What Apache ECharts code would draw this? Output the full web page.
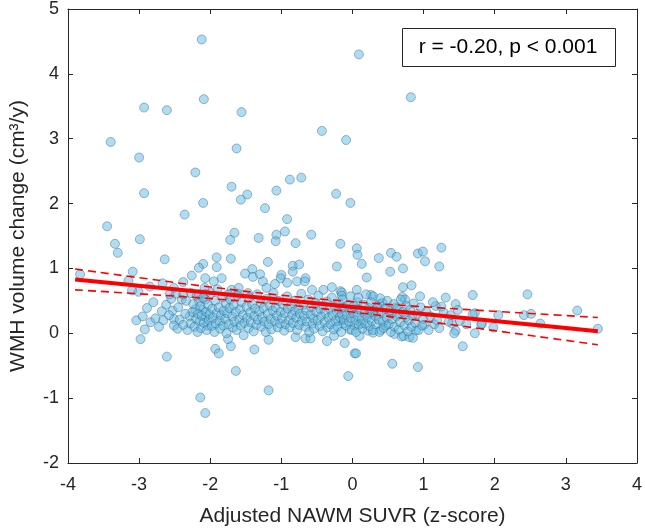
<!DOCTYPE html>
<html><head><meta charset="utf-8">
<script src="https://cdn.jsdelivr.net/npm/echarts@6/dist/echarts.min.js"></script>
<style>html,body{margin:0;padding:0;background:#fff}#c{width:645px;height:532px}</style>
</head><body><div id="c"></div>
<script>
const xTicks = [-4,-3,-2,-1,0,1,2,3,4];
const yTicks = [-2,-1,0,1,2,3,4,5];
const xTitle = 'Adjusted NAWM SUVR (z-score)';
const yTitle = 'WMH volume change (cm³/y)';
const statText = 'r = -0.20, p < 0.001';

// scatter points [z-score, change]
const outliers = [
[-2.12,4.53],[-2.93,3.48],[-2.61,3.44],[-2.09,3.61],[-1.56,3.41],[-3.40,2.95],[-3.0,2.71],[-1.63,2.85],[-2.21,2.48],
[0.09,4.30],[0.82,3.64],[-0.43,3.12],[-0.09,2.98],[-0.88,2.37],[-0.72,2.40],
[-2.93,2.16],[-2.10,2.01],[-2.36,1.83],[-3.45,1.65],[-3.34,1.38],[-2.99,1.45],[-3.30,1.24],[-2.64,1.14],[-3.09,0.95],[-3.83,0.91],
[-2.10,1.07],[-2.16,1.01],[-2.26,0.89],[-3.15,0.81],[-2.85,0.72],[-3.01,0.64],[-3.10,0.66],[-2.38,0.79],[-2.51,0.70],[-2.67,0.77],
[-1.70,2.26],[-1.48,2.14],[-1.57,2.06],[-1.07,2.20],[-0.23,2.15],[-1.23,1.93],[-0.92,1.76],[-1.66,1.55],[-1.72,1.44],[-0.95,1.57],
[-1.07,1.52],[-1.08,1.42],[-0.58,1.52],[-1.32,1.47],[-0.80,1.39],[-0.17,1.38],
[-1.91,1.17],[-1.71,1.15],[-1.91,1.02],[-1.19,1.10],[-0.84,1.04],[-0.75,1.06],[-0.84,0.95],[-0.22,1.03],[-1.41,0.99],[-1.51,0.92],
[-1.40,0.87],[-1.30,0.91],[-1.84,0.85],[-1.95,0.80],[-2.07,0.85],[-1.0,0.90],[-1.01,0.85],[-1.09,0.76],[-0.92,0.78],[-0.78,0.80],
[-0.66,0.85],[-0.67,0.80],[-1.26,0.80],[-1.21,0.70],[-0.57,0.67],[-0.41,0.67],[-0.29,0.71],[-0.17,0.65],[-1.70,0.67],[-1.60,0.70],
[-1.75,0.60],[-1.61,0.61],[-1.47,0.62],
[-0.03,2.01],[0.06,1.31],[0.07,1.21],[0.13,1.07],[0.37,1.16],[0.54,1.24],[0.62,1.18],[0.92,1.23],[0.99,1.26],[1.25,1.32],
[1.02,1.11],[1.22,1.03],[0.71,1.0],[0.53,0.95],[0.20,0.86],[0.71,0.71],[0.83,0.74],[0.06,0.67],[-0.15,0.63],[-0.15,0.58],
[0.26,0.59],[0.29,0.57],[0.95,0.57],[0.70,0.56],[1.69,0.59],[2.46,0.60],
[3.16,0.35],[1.72,0.31],[2.05,0.28],[2.41,0.28],[2.51,0.30],[2.64,0.15],[1.82,0.15],[1.98,0.09],[1.72,0.0],[3.45,0.07],
[0.74,0.52],[1.17,0.42],[1.25,0.41],[1.45,0.45],[0.07,0.48],[0.38,0.45],[0.42,0.47],[0.61,0.40],[-0.17,0.38],[-0.04,0.35],
[0.06,0.37],[0.24,0.30],[0.31,0.35],[0.36,0.30],[0.55,0.30],[0.66,0.29],[0.75,0.25],[0.84,0.27],[0.99,0.22],[1.15,0.14],
[1.40,0.15],[1.51,0.19],[1.60,0.14],[1.69,0.29],[1.81,0.14],[1.45,0.04],[1.43,0.0],[1.55,-0.20],
[-0.20,0.19],[-0.13,0.15],[-0.04,0.06],[0.03,0.12],[0.12,0.15],[0.22,0.04],[0.29,0.01],[0.40,0.05],[0.47,0.12],[0.10,-0.04],
[0.59,-0.01],[0.69,-0.05],[0.72,-0.04],[0.80,-0.06],[0.89,0.04],[0.85,-0.07],[-0.11,-0.15],[0.03,-0.31],[0.05,-0.31],[0.56,-0.47],
[0.92,-0.52],[-0.06,-0.66],[1.01,0.13],
[-1.93,-0.24],[-1.88,-0.31],[-1.71,-0.20],[-1.75,-0.09],[-1.38,-0.25],[-1.18,-0.10],[-1.64,-0.58],[-1.18,-0.88],[-2.14,-0.99],[-2.07,-1.23],
[-0.80,-0.06],[-0.66,-0.08],[-0.59,-0.08],[-0.36,-0.12],[-0.26,-0.04],
[-2.98,-0.09],[-2.61,-0.36],
[-3.04,0.20],[-2.95,0.26],[-2.89,0.39],[-2.84,0.17],[-2.77,0.23],[-2.66,0.20],[-2.68,0.34],[-2.53,0.35],[-2.51,0.22],[-2.51,0.12],
[-2.46,0.07],[-2.43,0.21],[-2.55,0.53],[-2.40,0.52],[-2.29,0.26],[-2.21,0.37],[-2.20,0.22],[-2.11,0.36],[-2.07,0.25],[-2.04,0.12],
[-2.34,0.50],[-2.16,0.50],[-2.07,0.52],[-2.57,0.60],[-2.48,0.61],[-2.38,0.60],[-2.27,0.62],[-2.16,0.60],[-2.07,0.61]
];
const band = [
[-2.32,0.05],[-2.28,0.15],[-2.25,0.33],[-2.24,0.45],[-2.22,0.10],[-2.19,0.58],[-2.18,0.02],
[-2.17,0.30],[-2.15,0.18],[-2.14,0.42],[-2.13,0.08],[-2.12,0.27],[-2.10,0.55],[-2.09,0.16],[-2.08,0.70],
[-2.06,0.33],[-2.05,0.05],[-2.03,0.44],[-2.02,0.20],[-2.01,0.29],[-1.99,0.62],[-1.98,0.11],
[-1.97,0.38],[-1.96,0.24],[-1.94,0.02],[-1.93,0.50],[-1.92,0.15],[-1.91,0.31],[-1.90,0.68],
[-1.88,0.40],[-1.87,0.19],[-1.86,0.07],[-1.85,0.28],[-1.83,0.55],[-1.82,0.12],[-1.81,0.35],
[-1.79,0.22],[-1.78,0.46],[-1.77,0.00],[-1.76,0.31],[-1.74,0.14],[-1.73,0.39],[-1.72,0.52],
[-1.69,0.26],[-1.68,0.09],[-1.67,0.43],[-1.66,0.18],[-1.64,0.33],[-1.63,0.05],[-1.62,0.58],
[-1.59,0.21],[-1.58,0.37],[-1.57,0.12],[-1.56,0.48],[-1.54,0.28],[-1.53,-0.03],[-1.52,0.16],
[-1.49,0.41],[-1.48,0.24],[-1.46,0.08],[-1.45,0.55],[-1.44,0.32],[-1.43,0.17],[-1.41,0.45],
[-1.39,0.03],[-1.38,0.27],[-1.37,0.38],[-1.35,0.13],[-1.34,0.60],[-1.33,0.21],[-1.31,0.34],
[-1.29,0.47],[-1.28,0.10],[-1.27,0.25],[-1.25,0.39],[-1.24,0.18],[-1.22,0.02],[-1.21,0.53],
[-1.19,0.30],[-1.18,0.14],[-1.16,0.43],[-1.15,0.22],[-1.14,0.06],[-1.12,0.35],[-1.11,0.62],
[-1.09,0.19],[-1.08,0.40],[-1.06,0.27],[-1.05,0.09],[-1.04,0.50],[-1.02,0.15],[-1.01,0.33],
[-0.99,0.23],[-0.98,0.45],[-0.96,0.04],[-0.95,0.31],[-0.94,0.14],[-0.92,0.57],[-0.91,0.38],
[-0.89,0.20],[-0.88,0.09],[-0.86,0.42],[-0.85,0.28],[-0.84,0.16],[-0.82,0.50],[-0.81,0.34],
[-0.79,0.24],[-0.78,0.05],[-0.76,0.39],[-0.75,0.13],[-0.74,0.30],[-0.72,0.61],[-0.71,0.19],
[-0.69,0.44],[-0.68,0.27],[-0.66,0.10],[-0.65,0.35],[-0.64,0.18],[-0.62,0.52],[-0.61,0.02],
[-0.59,0.29],[-0.58,0.40],[-0.56,0.15],[-0.55,0.23],[-0.54,0.07],[-0.52,0.47],[-0.51,0.33],
[-0.49,0.20],[-0.48,0.58],[-0.46,0.11],[-0.45,0.37],[-0.44,0.26],[-0.42,0.03],[-0.41,0.43],
[-0.39,0.17],[-0.38,0.31],[-0.36,0.49],[-0.35,0.09],[-0.34,0.24],[-0.32,0.38],[-0.31,0.14],
[-0.29,0.55],[-0.28,0.28],[-0.26,0.06],[-0.25,0.41],[-0.24,0.19],[-0.22,0.33],[-0.21,0.10],
[-0.19,0.46],[-0.18,0.25],[-0.16,0.02],[-0.15,0.30],[-0.14,0.52],[-0.12,0.21],[-0.11,0.40],
[-0.09,0.12],[-0.08,0.28],[-0.06,0.44],[-0.05,0.18],[-0.03,0.57],[-0.02,0.24],[-0.01,0.05],
[0.01,0.31],[0.02,0.42],[0.04,0.20],[0.05,0.02],[0.07,0.27],[0.08,0.55],[0.09,0.13],
[0.11,0.36],[0.13,0.22],[0.14,0.07],[0.16,0.44],[0.17,0.30],[0.18,0.15],[0.19,0.60],
[0.21,0.25],[0.23,0.39],[0.24,0.11],[0.26,0.48],[0.27,0.19],[0.28,0.33],[0.29,0.05],
[0.32,0.27],[0.33,0.14],[0.35,0.41],[0.37,0.21],[0.38,0.02],[0.39,0.54],
[0.41,0.32],[0.43,0.18],[0.44,0.08],[0.46,0.38],[0.48,0.24],[0.49,0.50],
[0.51,0.14],[0.52,0.35],[0.54,0.02],[0.56,0.22],[0.58,0.45],[0.59,0.10],
[0.62,0.26],[0.63,0.38],[0.65,0.06],[0.67,0.17],[0.68,0.52],
[0.71,0.33],[0.73,0.12],[0.76,0.42],[0.78,0.03],[0.79,0.20],
[0.81,0.36],[0.83,0.10],[0.86,0.46],[0.88,0.16],
[0.91,0.30],[0.93,0.05],[0.96,0.40],[0.98,0.12],
[1.04,0.33],[1.07,0.05],[1.10,0.26],[1.13,0.48],[1.19,0.20],[1.22,0.08],[1.28,0.32],[1.31,0.55],[1.35,0.18],[1.38,0.28],[1.48,0.36],
[-2.92,0.06],[-2.80,0.48],[-2.72,0.10],[-2.62,0.44],[-2.58,0.28],[-2.45,0.40],[-2.38,0.13],[-2.35,0.30]
];
// regression line and 95% CI
const fitX  = [-3.9, -3, -2, -1, 0, 1, 2, 3, 3.45];
const fitY  = [0.830, 0.733, 0.624, 0.516, 0.407, 0.299, 0.190, 0.082, 0.033];
const ciUp  = [0.990, 0.857, 0.714, 0.587, 0.487, 0.409, 0.339, 0.273, 0.243];
const ciLo  = [0.670, 0.609, 0.534, 0.445, 0.327, 0.189, 0.041, -0.109, -0.177];

const FONT = '"Liberation Sans", Arial, Helvetica, sans-serif';
const AX = '#262626';
const pts = outliers.concat(band);
const pair = (xs, ys) => xs.map((x, i) => [x, ys[i]]);

const chart = echarts.init(document.getElementById('c'), null, {renderer: 'canvas'});
const baseX = {
  type: 'value', min: -4, max: 4, interval: 1,
  axisLine: {show: true, onZero: false, lineStyle: {color: AX, width: 1}},
  axisTick: {show: true, inside: true, length: 5, lineStyle: {color: AX}},
  splitLine: {show: false}
};
const baseY = {
  type: 'value', min: -2, max: 5, interval: 1,
  axisLine: {show: true, onZero: false, lineStyle: {color: AX, width: 1}},
  axisTick: {show: true, inside: true, length: 5, lineStyle: {color: AX}},
  splitLine: {show: false}
};
chart.setOption({
  animation: false,
  grid: {left: 62, right: 6, top: 6, bottom: 64, containLabel: false},
  xAxis: [
    Object.assign({}, baseX, {position: 'bottom',
      axisLabel: {show: true, color: AX, fontSize: 18, fontFamily: FONT, margin: 13,
        formatter: v => xTicks.includes(v) ? String(v) : ''},
      name: xTitle, nameLocation: 'middle', nameGap: 43,
      nameTextStyle: {color: AX, fontSize: 21, fontFamily: FONT}}),
    Object.assign({}, baseX, {position: 'top', axisLabel: {show: false}})
  ],
  yAxis: [
    Object.assign({}, baseY, {position: 'left',
      axisLabel: {show: true, color: AX, fontSize: 18, fontFamily: FONT, margin: 9,
        formatter: v => yTicks.includes(v) ? String(v) : ''},
      name: yTitle, nameLocation: 'middle', nameGap: 39,
      nameTextStyle: {color: AX, fontSize: 21, fontFamily: FONT}}),
    Object.assign({}, baseY, {position: 'right', axisLabel: {show: false}})
  ],
  series: [
    {type: 'scatter', xAxisIndex: 0, yAxisIndex: 0, data: pts, symbolSize: 9, z: 2,
      itemStyle: {color: 'rgba(92,186,230,0.62)', borderColor: 'rgba(60,95,115,0.7)', borderWidth: 0.8}},
    {type: 'line', data: pair(fitX, fitY), symbol: 'none', z: 4,
      lineStyle: {color: '#ff0000', width: 4}},
    {type: 'line', data: pair(fitX, ciUp), symbol: 'none', smooth: true, z: 4,
      lineStyle: {color: '#ff0000', width: 1.6, type: [8, 5]}},
    {type: 'line', data: pair(fitX, ciLo), symbol: 'none', smooth: true, z: 4,
      lineStyle: {color: '#ff0000', width: 1.6, type: [8, 5]}}
  ],
  graphic: [
    {type: 'rect', left: 402, top: 28, z: 10,
      shape: {width: 213, height: 38}, style: {fill: '#fff', stroke: AX, lineWidth: 1}},
    {type: 'text', x: 508, y: 47, z: 11,
      style: {text: statText, fill: '#000', font: '21px ' + FONT, textAlign: 'center', textVerticalAlign: 'middle'}}
  ]
});
</script></body></html>
